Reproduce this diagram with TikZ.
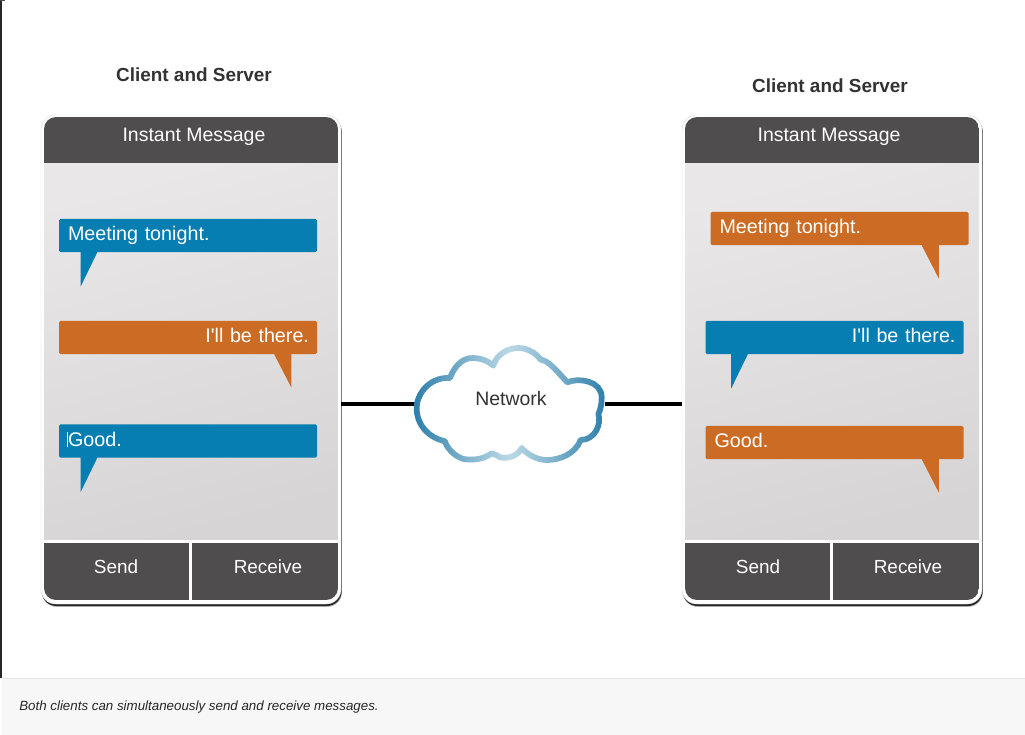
\documentclass[tikz,border=0pt]{standalone}
\usepackage{fontspec}
\setmainfont[Ligatures=TeXOff]{Liberation Sans}
\usepackage{xcolor}
\usetikzlibrary{calc, positioning, shadows}

\definecolor{barcol}{HTML}{4F4D4E}
\definecolor{screentop}{HTML}{E9E7E8}
\definecolor{screenlow}{HTML}{D6D4D5}
\definecolor{msgblue}{HTML}{067EB2}
\definecolor{msgorange}{HTML}{CC6C24}
\definecolor{cloudedge}{HTML}{2C7EA9}
\definecolor{cloudmid}{HTML}{BAD8E6}
\definecolor{inktext}{HTML}{333333}
\def\px{0.75pt}

\tikzset{
  phone/.style={rectangle, rounded corners=11pt, fill=white, draw=black!15, line width=0.3pt,
    minimum width=300*\px, minimum height=489*\px, inner sep=0pt,
    drop shadow={shadow xshift=0.7pt, shadow yshift=-2.2pt, opacity=0.25, fill=black},
    drop shadow={shadow xshift=0.5pt, shadow yshift=-1.5pt, opacity=0.8, fill=black}},
  bartext/.style={anchor=base, text=white, font=\fontsize{14.2}{16}\selectfont, inner sep=0pt},
  headtext/.style={bartext, font=\fontsize{14.6}{16}\selectfont},
  title/.style={anchor=base, text=inktext, font=\fontsize{14.2}{16}\selectfont\bfseries, inner sep=0pt},
  bubble/.style={rectangle, rounded corners=1.2pt, text=white, minimum width=258*\px,
    text height=16.6pt, text depth=8.4pt, text width=240*\px, inner sep=0pt, font=\fontsize{14.8}{16}\selectfont},
  toleft/.style={bubble, align=left},
  toright/.style={bubble, text width=242*\px, align=right},
  wire/.style={line width=2.6pt, black}
}

% speech tails, below the bubble #1, #3 away from its corner
\newcommand{\tailleft}[3]{\fill[#2] ($(#1.south west)+(#3,-1)$) -- ++(0,35) -- ++(17,-35) -- cycle;}
\newcommand{\tailright}[3]{\fill[#2] ($(#1.south east)+(-#3,-1)$) -- ++(-17,0) -- ++(0,1) -- ++(17,33) -- cycle;}

% outline of the cloud, around its centre
\newcommand{\cloudpath}{(-280,15) .. controls (-282,-25) and (-245,-82) .. (-180,-78)
  .. controls (-172,-100) and (-150,-140) .. (-110,-138) .. controls (-90,-138) and (-65,-130) .. (-50,-115)
  .. controls (-40,-150) and (-5,-168) .. (25,-168) .. controls (55,-168) and (80,-150) .. (92,-133)
  .. controls (115,-130) and (135,-105) .. (172,-65) .. controls (205,-80) and (275,-70) .. (275,-20)
  .. controls (275,0) and (272,15) .. (265,30) .. controls (275,60) and (255,108) .. (212,108)
  .. controls (195,150) and (150,168) .. (110,168) .. controls (85,168) and (55,155) .. (35,132)
  .. controls (25,155) and (-5,165) .. (-30,160) .. controls (-40,152) and (-50,150) .. (-55,148)
  .. controls (-85,170) and (-120,168) .. (-140,165) .. controls (-170,155) and (-190,130) .. (-195,112)
  .. controls (-245,100) and (-278,65) .. (-280,15) -- cycle}

\begin{document}
\begin{tikzpicture}[x=\px, y=-\px]
  \useasboundingbox (0,0) rectangle (1025,735);

  % window edge and footer
  \fill[white] (0,0) rectangle (1025,735);
  \fill[black!85] (0,0) rectangle (2,678);
  \fill[black!70] (0,0) rectangle (5,1);
  \fill[black!3] (2,678) rectangle (1025,735);
  \draw[black!10, line width=0.6pt] (2,678) -- (1025,678);
  \node[anchor=base west, inner sep=0pt, text=black!85, font=\fontsize{10}{11}\selectfont\itshape] (note) at (19,710)
    {Both clients can simultaneously send and receive messages.};

  % the two phones
  \foreach \n/\x/\hx/\sx/\rx in {L/41/153/75/227, R/682/147/76/226} {
    \begin{scope}[shift={(\x,0)}]
      \node[phone] (phone\n) at (150,359.5) {};
      \begin{scope}
        \clip[rounded corners=9pt] (3,117) rectangle (297,600);
        \fill[barcol] (3,117) rectangle (297,163);
        \shade[top color=screentop, bottom color=screenlow, shading angle=15] (3,163) rectangle (297,539);
        \fill[barcol] (3,543) rectangle (148,600);
        \fill[barcol] (151,543) rectangle (297,600);
      \end{scope}
      \node[headtext] (head\n) at (\hx,142) {Instant Message};
      \node[bartext] (send\n) at (\sx,573) {Send};
      \node[bartext] (receive\n) at (\rx,573) {Receive};
    \end{scope}
  }

  \node[title] (titleL) at (194,82) {Client and Server};
  \node[title] (titleR) at (830,93) {Client and Server};

  % messages on the left phone
  \node[toleft, fill=msgblue] (meetL) at (188,235.5) {Meeting tonight.};
  \tailleft{meetL}{msgblue}{22}
  \node[toright, fill=msgorange] (thereL) at (188,337.5) {I'll be there.};
  \tailright{thereL}{msgorange}{26}
  \node[toleft, fill=msgblue] (goodL) at (188,441) {\llap{\rule[-0.5pt]{0.5pt}{11pt}}Good.};
  \tailleft{goodL}{msgblue}{22}

  % messages on the right phone
  \node[toleft, fill=msgorange] (meetR) at (839.5,228.5) {Meeting tonight.};
  \tailright{meetR}{msgorange}{30}
  \node[toright, fill=msgblue] (thereR) at (834.5,337.5) {I'll be there.};
  \tailleft{thereR}{msgblue}{26}
  \node[toleft, fill=msgorange] (goodR) at (834.5,442.5) {Good.};
  \tailright{goodR}{msgorange}{25}

  % network
  \node[inner sep=0pt, minimum width=190*\px, minimum height=115*\px] (net) at (510,404) {};
  \draw[wire] (phoneL.east |- net.west) -- (net.west);
  \draw[wire] (net.east) -- (phoneR.west |- net.east);
  \begin{scope}[shift={(net.center)}, x=0.25pt, y=-0.25pt]
    \fill[white] \cloudpath;
    % stroke in thin strips, dark at the sides and pale in the middle
    \foreach \i in {-24,...,23} {
      \pgfmathsetmacro{\shadeval}{100*(abs(\i+0.5)/24)^1.1}
      \colorlet{stripcol}{cloudedge!\shadeval!cloudmid}
      \begin{scope}
        \clip (12*\i-0.5,-210) rectangle (12*\i+12.5,210);
        \draw[stripcol, line width=4.3pt, line join=round] \cloudpath;
      \end{scope}
    }
  \end{scope}
  \node[anchor=base, inner sep=0pt, font=\fontsize{14.6}{16}\selectfont, text=inktext] (netlabel) at (511,405) {Network};
\end{tikzpicture}
\end{document}
